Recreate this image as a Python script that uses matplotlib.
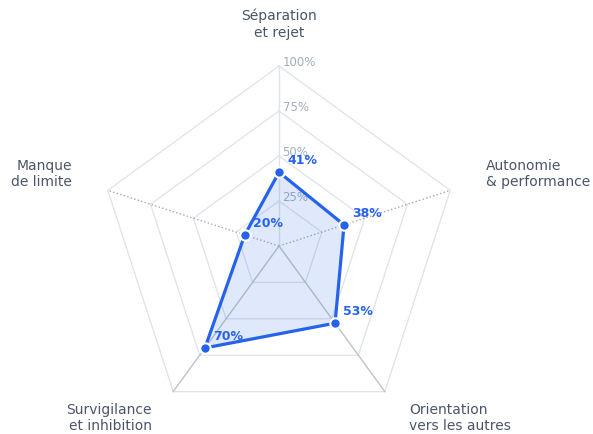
import matplotlib.pyplot as plt
import numpy as np

labels = ['Séparation\net rejet', 'Autonomie\n& performance', 'Orientation\nvers les autres',
          'Survigilance\net inhibition', 'Manque\nde limite']
values = [41, 38, 53, 70, 20]
ticks = [25, 50, 75, 100]

blue = '#2563eb'
n = len(labels)
# clockwise from the top
ang = np.pi / 2 - 2 * np.pi * np.arange(n) / n


def xy(r):
    return r * np.cos(ang), r * np.sin(ang)


fig = plt.figure(figsize=(5.93, 4.35), dpi=100)
ax = fig.add_axes([0, 0, 1, 1])
R = 180.0  # px for 100%
ax.set_xlim(-279 / R, (593 - 279) / R)
ax.set_ylim(-(435 - 247) / R, 247 / R)
ax.axis('off')

# pentagon grid
for t in ticks:
    gx, gy = xy(t / 100)
    ax.plot(np.append(gx, gx[0]), np.append(gy, gy[0]), color='#dde2eb', lw=0.9, zorder=1)
    ax.text(0.02, t / 100 + 0.025, f'{t}%', color='#a0aec0', fontsize=8.5,
            ha='left', va='center', zorder=2)

# spokes
vx, vy = xy(1.0)
spoke_styles = [('#dde2eb', '-'), ('#a3a8b3', ':'), ('#bfc3ca', '-'), ('#bfc3ca', '-'), ('#a3a8b3', ':')]
for i in range(n):
    c, ls = spoke_styles[i]
    ax.plot([0, vx[i]], [0, vy[i]], color=c, ls=ls, lw=1.0, zorder=1)

# data
dx, dy = xy(np.array(values) / 100)
ax.fill(dx, dy, color=blue, alpha=0.14, lw=0, zorder=3)
ax.plot(np.append(dx, dx[0]), np.append(dy, dy[0]), color=blue, lw=2.3, zorder=4)
ax.plot(dx, dy, 'o', color=blue, ms=7.5, mec='white', mew=1.5, zorder=5)
for i, v in enumerate(values):
    ax.annotate(f'{v}%', (dx[i], dy[i]), xytext=(6, 9), textcoords='offset points',
                ha='left', va='center', color=blue, fontsize=9, fontweight='bold', zorder=6)

# axis labels (pixel positions of the reference)
lab_pos = [(279, 24, 'center'), (486, 174, 'left'), (409, 418, 'left'),
           (152, 418, 'right'), (72, 174, 'right')]
for lab, (px, py, ha) in zip(labels, lab_pos):
    ax.text((px - 279) / R, (247 - py) / R, lab, ha=ha, va='center', multialignment=ha,
            fontsize=10, color='#4a5568', linespacing=1.25)

plt.savefig('out.png')
